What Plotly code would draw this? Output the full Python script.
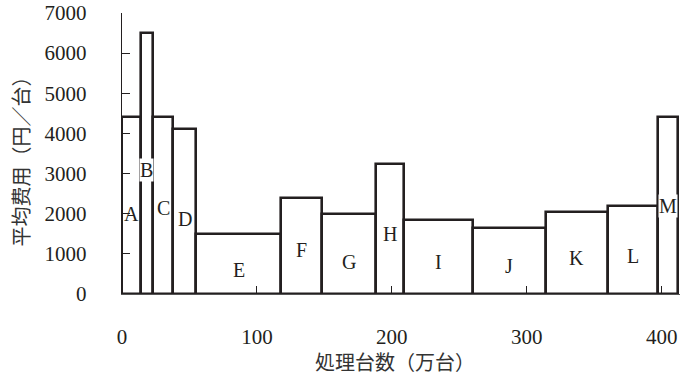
import plotly.graph_objects as go

categories = ["A", "B", "C", "D", "E", "F", "G", "H", "I", "J", "K", "L", "M"]
widths = [14, 9, 15, 17, 63, 30, 40, 21, 51, 54, 46, 37, 15]          # 処理台数（万台）
costs = [4400, 6500, 4400, 4100, 1500, 2400, 2000, 3250, 1850, 1650, 2050, 2200, 4400]  # 平均費用（円／台）
x_ticks = [0, 100, 200, 300, 400]
y_ticks = [0, 1000, 2000, 3000, 4000, 5000, 6000, 7000]

# label vertical placement (layout only)
label_y = [2000, 3100, 2150, 1880, 600, 1100, 800, 1500, 800, 700, 900, 950, 2180]
label_bg = ["B", "M"]

lefts = []
acc = 0
for w in widths:
    lefts.append(acc)
    acc += w
centers = [l + w / 2 for l, w in zip(lefts, widths)]

SERIF = "Liberation Serif, 'Noto Sans CJK JP', serif"
INK = "#231f20"

fig = go.Figure()
fig.add_trace(go.Bar(
    x=centers, y=costs, width=widths,
    marker=dict(color="white", line=dict(color=INK, width=2.6)),
    hoverinfo="skip", showlegend=False,
))

for c, cx, ly in zip(categories, centers, label_y):
    fig.add_annotation(
        x=cx, y=ly, text=c, showarrow=False,
        font=dict(family=SERIF, size=20, color=INK),
        bgcolor="white" if c in label_bg else None,
        borderpad=0,
    )

fig.add_annotation(
    x=0.489, y=-0.246, xref="paper", yref="paper", text="処理台数（万台）",
    showarrow=False, font=dict(family=SERIF, size=20, color="#333"),
    yanchor="middle",
)
fig.add_annotation(
    x=-0.179, y=0.49, xref="paper", yref="paper", text="平均费用（円／台）",
    showarrow=False, textangle=-90, font=dict(family=SERIF, size=20, color="#333"),
    xanchor="center",
)

fig.update_layout(
    width=680, height=374,
    margin=dict(l=122, r=0, t=13, b=80),
    plot_bgcolor="white", paper_bgcolor="white",
    bargap=0,
    xaxis=dict(
        range=[0, 413.6], tickvals=x_ticks, ticks="inside", ticklen=8,
        tickcolor=INK, tickwidth=1, showgrid=False, zeroline=False,
        showline=True, linecolor="#555", linewidth=1.2,
        tickfont=dict(family=SERIF, size=21, color=INK),
        ticklabelstandoff=24,
    ),
    yaxis=dict(
        range=[0, 7000], tickvals=y_ticks, ticks="inside", ticklen=8,
        tickcolor=INK, tickwidth=1.2, showgrid=False, zeroline=False,
        showline=True, linecolor=INK, linewidth=1.4,
        tickfont=dict(family=SERIF, size=21, color=INK),
        ticklabelstandoff=30,
    ),
)

fig.write_html(
    "out.html",
    config={"displayModeBar": False},
    post_script="document.body.style.margin='0';document.body.style.overflow='hidden';",
)
